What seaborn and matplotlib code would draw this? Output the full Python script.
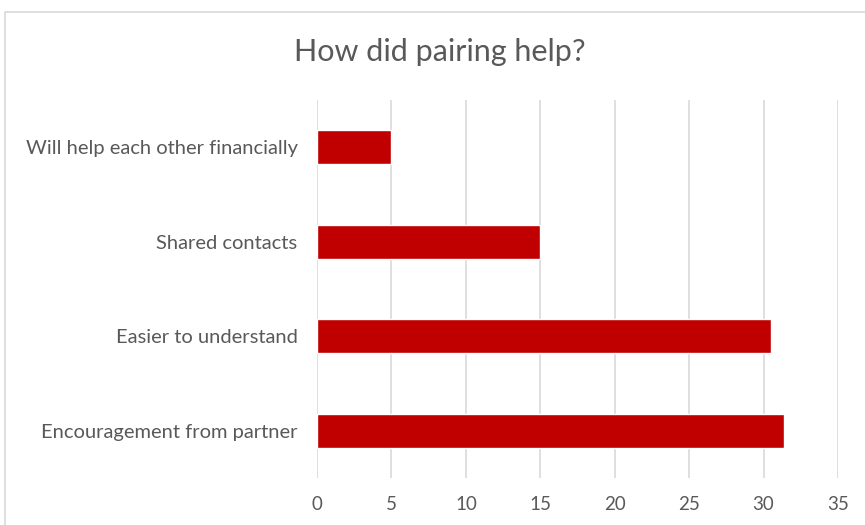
import matplotlib
matplotlib.use("Agg")
import matplotlib.pyplot as plt
import seaborn as sns
import pandas as pd
from matplotlib.patches import Rectangle

categories = [
    "Will help each other financially",
    "Shared contacts",
    "Easier to understand",
    "Encouragement from partner",
]
values = [5, 15, 30.5, 31.4]
x_ticks = [0, 5, 10, 15, 20, 25, 30, 35]

df = pd.DataFrame({"reason": categories, "count": values})

sns.set_theme(style="white")
plt.rcParams["font.family"] = ["Lato", "DejaVu Sans"]

text_gray = "#595959"
grid_gray = "#d9d9d9"
bar_red = "#c00000"

fig = plt.figure(figsize=(8.65, 5.25), dpi=100)
ax = fig.add_axes([0.3665, 0.0895, 0.6023, 0.72])

sns.barplot(data=df, x="count", y="reason", order=categories, color=bar_red,
            width=0.36, saturation=1, ax=ax, zorder=3)

ax.set_xlim(0, 35)
ax.set_xticks(x_ticks)
ax.set_xticklabels([str(t) for t in x_ticks])
ax.set_xlabel("")
ax.set_ylabel("")
ax.grid(axis="x", color=grid_gray, linewidth=1.2, zorder=0)
ax.grid(axis="y", visible=False)
for s in ax.spines.values():
    s.set_visible(False)
ax.tick_params(axis="x", length=0, pad=13, labelsize=13.5, labelcolor=text_gray)
ax.tick_params(axis="y", length=0, pad=14, labelsize=14.5, labelcolor=text_gray)

fig.text(0.508, 0.90, "How did pairing help?", ha="center", va="center",
         fontsize=22, color=text_gray)

# outer chart frame
fig.patches.append(Rectangle((5 / 865, -0.1), 1.1, 1.1 - 12 / 525,
                             transform=fig.transFigure, fill=False,
                             edgecolor="#d9d9d9", linewidth=1.2))

fig.savefig("out.png", dpi=100, facecolor="white")
